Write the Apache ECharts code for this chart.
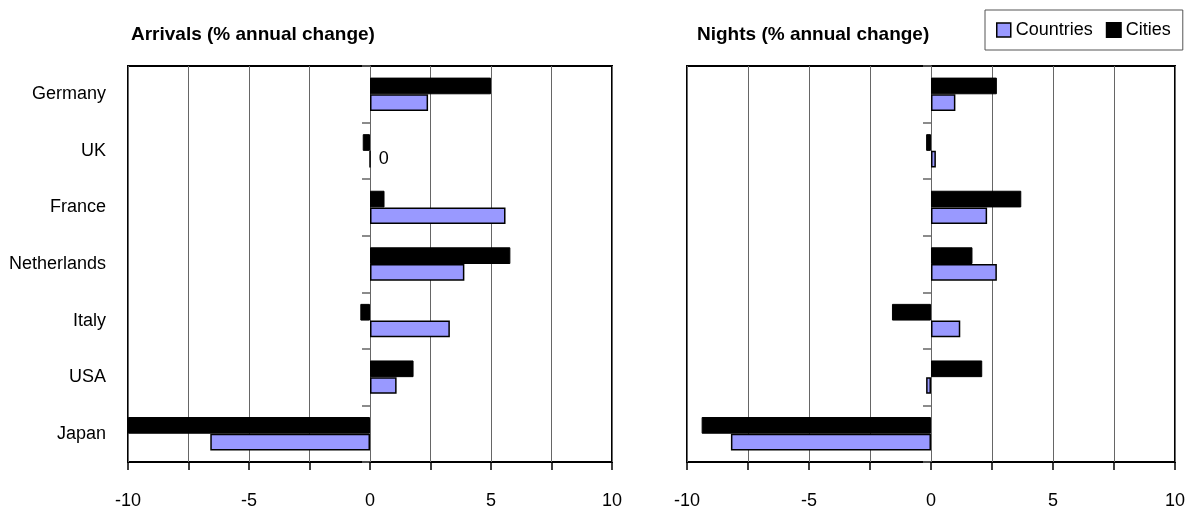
<!DOCTYPE html>
<html>
<head>
<meta charset="utf-8">
<title>Arrivals and nights, annual change</title>
<script src="https://cdn.jsdelivr.net/npm/echarts@6/dist/echarts.min.js"></script>
<style>
  html, body { margin: 0; padding: 0; background: #fff; }
  #chart { width: 1188px; height: 515px; }
</style>
</head>
<body>
<div id="chart"></div>
<script>
// Source markets, listed top to bottom
const categories = ['Germany', 'UK', 'France', 'Netherlands', 'Italy', 'USA', 'Japan'];

// Arrivals, % annual change
const arrivalsCountries = [2.4, 0, 5.6, 3.9, 3.3, 1.1, -6.6];
const arrivalsCities    = [5.0, -0.3, 0.6, 5.8, -0.4, 1.8, -10.0];

// Nights, % annual change
const nightsCountries = [1.0, 0.2, 2.3, 2.7, 1.2, -0.2, -8.2];
const nightsCities    = [2.7, -0.2, 3.7, 1.7, -1.6, 2.1, -9.4];

// Value-axis ticks; only the labelled ones get text
const axisTickLabels = [-10, -5, 0, 5, 10];

const FONT = '"Liberation Sans", Arial, sans-serif';
const COUNTRY_COLOR = '#9999ff';
const CITY_COLOR = '#000000';

const panels = [
  { left: 128, width: 484, title: 'Arrivals (% annual change)', titleX: 131, countries: arrivalsCountries, cities: arrivalsCities, showCats: true },
  { left: 687, width: 488, title: 'Nights (% annual change)', titleX: 697, countries: nightsCountries, cities: nightsCities, showCats: false }
];

const grids = [], xAxes = [], yAxes = [], series = [], titles = [];

panels.forEach((p, i) => {
  grids.push({
    left: p.left, top: 66, width: p.width, height: 396,
    show: true, borderColor: '#000', borderWidth: 2, backgroundColor: 'transparent'
  });
  titles.push({
    text: p.title, left: p.titleX, top: 25, padding: 0,
    textStyle: { fontFamily: FONT, fontSize: 19, fontWeight: 'bold', color: '#000' }
  });
  xAxes.push({
    type: 'value', gridIndex: i, min: -10, max: 10, interval: 2.5,
    axisLine: { show: false },
    axisTick: { show: true, length: 8, lineStyle: { color: '#000', width: 1.5 } },
    splitLine: { show: true, lineStyle: { color: '#666', width: 1 } },
    axisLabel: {
      margin: 30, fontFamily: FONT, fontSize: 18, color: '#000',
      formatter: v => (axisTickLabels.indexOf(v) >= 0 ? String(v) : '')
    }
  });
  // category labels along the left edge of the panel
  yAxes.push({
    type: 'category', gridIndex: i, data: categories, inverse: true,
    position: 'left',
    axisLine: { show: false, onZero: false },
    axisTick: { show: false },
    axisLabel: { show: p.showCats, margin: 22, fontFamily: FONT, fontSize: 18, color: '#000' }
  });
  // zero line with group separators
  yAxes.push({
    type: 'category', gridIndex: i, data: categories, inverse: true,
    position: 'right',
    axisLine: { show: true, onZero: true, lineStyle: { color: '#666', width: 1 } },
    axisTick: { show: true, inside: true, length: 8, lineStyle: { color: '#666', width: 1.5 } },
    axisLabel: { show: false }
  });
  const yIdx = i * 2;
  series.push({
    name: 'Cities', type: 'bar', xAxisIndex: i, yAxisIndex: yIdx,
    data: p.cities, barGap: '0%', barCategoryGap: '41%',
    itemStyle: { color: CITY_COLOR, borderColor: '#000', borderWidth: 1 },
    z: 3
  });
  series.push({
    name: 'Countries', type: 'bar', xAxisIndex: i, yAxisIndex: yIdx,
    data: p.countries.map(v => (v === 0
      ? { value: v, label: { show: true, position: 'right', distance: 8, formatter: '{c}', fontFamily: FONT, fontSize: 18, color: '#000' } }
      : v)),
    barGap: '0%', barCategoryGap: '41%',
    itemStyle: { color: COUNTRY_COLOR, borderColor: '#000', borderWidth: 1.5 },
    z: 3
  });
});

const chart = echarts.init(document.getElementById('chart'), null, { renderer: 'canvas' });
chart.setOption({
  animation: false,
  backgroundColor: '#fff',
  title: titles,
  legend: {
    left: 985, top: 10,
    padding: [11, 12, 11, 11],
    borderColor: '#555', borderWidth: 1,
    itemWidth: 14, itemHeight: 14, itemGap: 13,
    icon: 'rect',
    textStyle: { fontFamily: FONT, fontSize: 18, color: '#000' },
    data: [
      { name: 'Countries', itemStyle: { color: COUNTRY_COLOR, borderColor: '#000', borderWidth: 1.5 } },
      { name: 'Cities', itemStyle: { color: CITY_COLOR } }
    ]
  },
  grid: grids,
  xAxis: xAxes,
  yAxis: yAxes,
  series: series
});
</script>
</body>
</html>
